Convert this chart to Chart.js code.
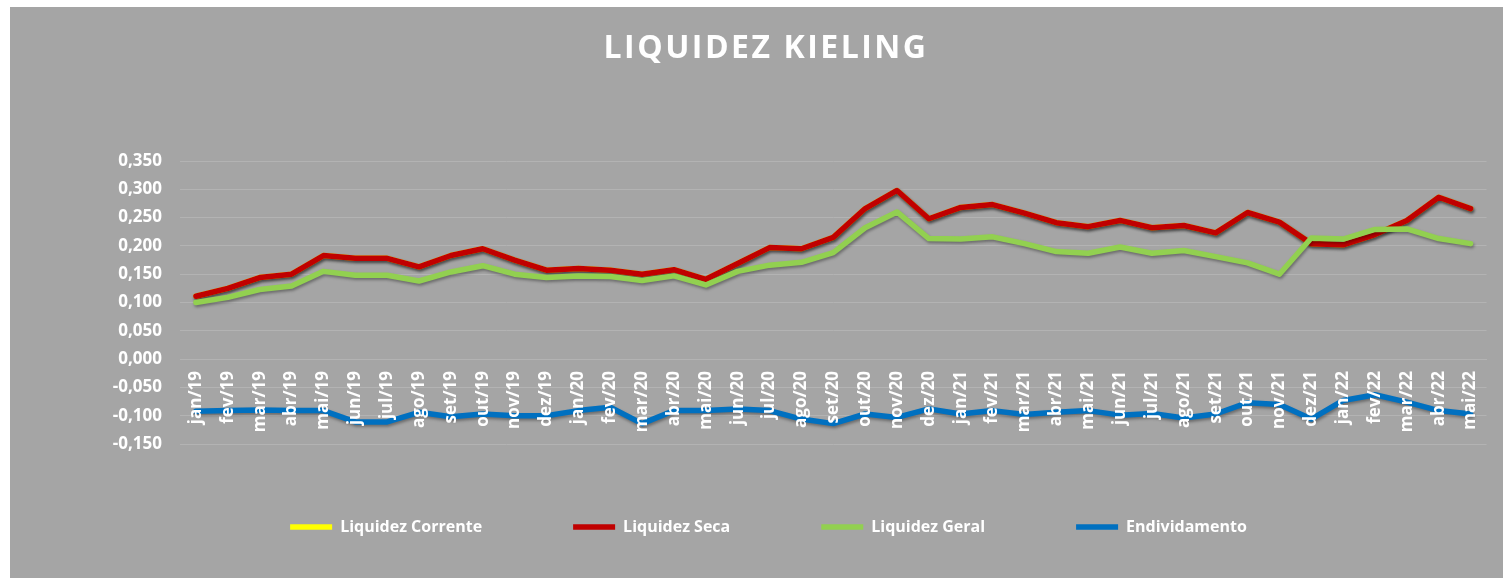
<!DOCTYPE html>
<html lang="pt-BR">
<head>
<meta charset="utf-8">
<title>Liquidez Kieling</title>
<script src="https://cdn.jsdelivr.net/npm/chart.js@4.4.1/dist/chart.umd.min.js"></script>
<style>
    html, body {
        margin: 0;
        padding: 0;
        background: #ffffff;
    }
    .chart-box {
        position: absolute;
        left: 10px;
        top: 7px;
        width: 1493px;
        height: 571px;
        background: #a5a5a5;
    }
</style>
</head>
<body>
<div class="chart-box">
    <canvas id="liquidezChart"></canvas>
</div>
<script>
// Chart data
const chartTitle = 'LIQUIDEZ KIELING';

const months = [
    'jan/19', 'fev/19', 'mar/19', 'abr/19', 'mai/19', 'jun/19', 'jul/19', 'ago/19', 'set/19', 'out/19', 'nov/19', 'dez/19',
    'jan/20', 'fev/20', 'mar/20', 'abr/20', 'mai/20', 'jun/20', 'jul/20', 'ago/20', 'set/20', 'out/20', 'nov/20', 'dez/20',
    'jan/21', 'fev/21', 'mar/21', 'abr/21', 'mai/21', 'jun/21', 'jul/21', 'ago/21', 'set/21', 'out/21', 'nov/21', 'dez/21',
    'jan/22', 'fev/22', 'mar/22', 'abr/22', 'mai/22'
];

// yellow series sits right under the red one in the picture
const liquidezCorrente = [
    0.111, 0.125, 0.144, 0.150, 0.183, 0.178, 0.178, 0.163, 0.183, 0.195, 0.175, 0.157,
    0.160, 0.157, 0.150, 0.158, 0.141, 0.169, 0.197, 0.195, 0.215, 0.266, 0.298, 0.248,
    0.268, 0.273, 0.258, 0.241, 0.234, 0.245, 0.232, 0.236, 0.223, 0.259, 0.242, 0.204,
    0.202, 0.220, 0.245, 0.286, 0.266
];

const liquidezSeca = [
    0.111, 0.125, 0.144, 0.150, 0.183, 0.178, 0.178, 0.163, 0.183, 0.195, 0.175, 0.157,
    0.160, 0.157, 0.150, 0.158, 0.141, 0.169, 0.197, 0.195, 0.215, 0.266, 0.298, 0.248,
    0.268, 0.273, 0.258, 0.241, 0.234, 0.245, 0.232, 0.236, 0.223, 0.259, 0.242, 0.204,
    0.202, 0.220, 0.245, 0.286, 0.266
];

const liquidezGeral = [
    0.100, 0.109, 0.123, 0.129, 0.155, 0.148, 0.148, 0.138, 0.154, 0.165, 0.150, 0.144,
    0.147, 0.146, 0.139, 0.147, 0.131, 0.155, 0.166, 0.171, 0.188, 0.232, 0.260, 0.213,
    0.212, 0.216, 0.204, 0.190, 0.187, 0.198, 0.187, 0.192, 0.181, 0.170, 0.150, 0.214,
    0.212, 0.229, 0.230, 0.213, 0.204
];

const endividamento = [
    -0.092, -0.091, -0.090, -0.091, -0.091, -0.111, -0.111, -0.094, -0.102, -0.097, -0.100, -0.100,
    -0.091, -0.085, -0.114, -0.091, -0.091, -0.088, -0.091, -0.106, -0.114, -0.097, -0.103, -0.088,
    -0.097, -0.091, -0.098, -0.094, -0.091, -0.099, -0.096, -0.104, -0.097, -0.077, -0.080, -0.106,
    -0.073, -0.063, -0.076, -0.091, -0.097
];

const FONT = "'Open Sans', 'DejaVu Sans', sans-serif";
const GRID = '#b3b3b3';

// Title drawn by hand so it can have letter spacing
const spacedTitle = {
    id: 'spacedTitle',
    afterDraw(chart) {
        const ctx = chart.ctx;
        ctx.save();
        ctx.font = 'bold 32px ' + FONT;
        ctx.fillStyle = '#ffffff';
        ctx.textAlign = 'center';
        ctx.textBaseline = 'middle';
        ctx.letterSpacing = '2.5px';
        ctx.fillText(chartTitle, 756, 42);
        ctx.restore();
    }
};

// Soft shadow under the lines
const lineShadow = {
    id: 'lineShadow',
    beforeDatasetDraw(chart) {
        const ctx = chart.ctx;
        ctx.save();
        ctx.shadowColor = 'rgba(0, 0, 0, 0.35)';
        ctx.shadowBlur = 3;
        ctx.shadowOffsetX = 1;
        ctx.shadowOffsetY = 2;
    },
    afterDatasetDraw(chart) {
        chart.ctx.restore();
    }
};

// Move the legend row a bit (x labels on the zero line take no room)
const legendShift = {
    id: 'legendShift',
    afterLayout(chart) {
        const lg = chart.legend;
        if (!lg) return;
        lg.top -= 16;
        lg.bottom -= 16;
        lg.left += 12;
        lg.right += 12;
    }
};

function makeDataset(label, data, color, order) {
    return {
        label: label,
        data: data,
        borderColor: color,
        backgroundColor: color,
        borderWidth: 5.5,
        borderCapStyle: 'round',
        borderJoinStyle: 'round',
        pointRadius: 0,
        pointHoverRadius: 0,
        tension: 0,
        fill: false,
        order: order
    };
}

function initializeLiquidezChart() {
    const ctx = document.getElementById('liquidezChart').getContext('2d');

    new Chart(ctx, {
        type: 'line',
        data: {
            labels: months,
            datasets: [
                makeDataset('Liquidez Corrente', liquidezCorrente, '#ffff00', 4),
                makeDataset('Liquidez Seca', liquidezSeca, '#c00000', 3),
                makeDataset('Liquidez Geral', liquidezGeral, '#92d050', 2),
                makeDataset('Endividamento', endividamento, '#0070c0', 1)
            ]
        },
        plugins: [spacedTitle, lineShadow, legendShift],
        options: {
            responsive: true,
            maintainAspectRatio: false,
            animation: false,
            layout: {
                padding: { top: 154, right: 0, bottom: 17, left: 0 }
            },
            scales: {
                x: {
                    position: { y: 0 },
                    offset: true,
                    grid: {
                        display: true,
                        drawOnChartArea: false,
                        drawTicks: false,
                        color: GRID
                    },
                    border: { display: true, color: GRID, width: 1 },
                    ticks: {
                        z: 1, // month labels sit on top of the lines
                        color: '#ffffff',
                        font: { family: FONT, size: 17, weight: 'bold' },
                        maxRotation: 90,
                        minRotation: 90,
                        autoSkip: false,
                        padding: 12
                    }
                },
                y: {
                    min: -0.15,
                    max: 0.35,
                    afterFit(scale) {
                        scale.width = 170;
                    },
                    grid: {
                        color: GRID,
                        lineWidth: 1,
                        drawTicks: false
                    },
                    border: { display: false },
                    ticks: {
                        stepSize: 0.05,
                        color: '#ffffff',
                        padding: 18,
                        font: { family: FONT, size: 17, weight: 'bold' },
                        callback: function(value) {
                            return value.toFixed(3).replace('.', ',');
                        }
                    }
                }
            },
            plugins: {
                title: { display: false },
                tooltip: { enabled: false },
                legend: {
                    display: true,
                    position: 'bottom',
                    labels: {
                        color: '#ffffff',
                        font: { family: FONT, size: 16, weight: 'bold' },
                        usePointStyle: true,
                        pointStyle: 'line',
                        pointStyleWidth: 42,
                        padding: 91,
                        sort: (a, b) => a.datasetIndex - b.datasetIndex
                    }
                }
            }
        }
    });
}

document.addEventListener('DOMContentLoaded', function() {
    initializeLiquidezChart();
});
</script>
</body>
</html>
